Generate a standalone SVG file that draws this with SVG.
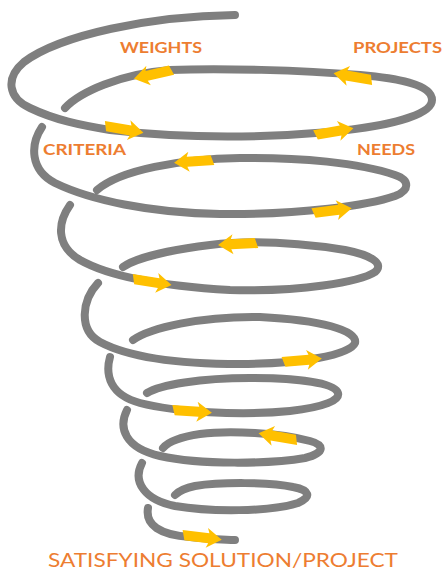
<svg xmlns="http://www.w3.org/2000/svg" xmlns:xlink="http://www.w3.org/1999/xlink" width="444" height="572" viewBox="0 0 444 572">
<defs>
<style>
.coil{fill:none;stroke:#7f7f7f;stroke-width:8;stroke-linecap:round;stroke-linejoin:round}
.lbl{font-family:Lato,"Liberation Sans",sans-serif;font-weight:bold;font-size:16px;fill:#ed7d31}
.big{font-family:Lato,"Liberation Sans",sans-serif;font-size:20px;fill:#ed7d31}
.arr{fill:#ffc000}
</style>
<path id="arr" class="arr" d="M-1,-5 L26,-5 L24,-10 L39,0 L24,10 L26,5 L2,5 Z"/>
</defs>
<rect width="444" height="572" fill="#ffffff"/>
<g id="spiral">
<path class="coil" d="M235,15 C150,16 60,35 24,62 C5,78 8,98 30,108 C55,120 80,125 110,130 C180,138 260,138 330,132 C390,126 432,115 432,100 C432,84 395,78 360,75 C300,70 220,68 170,70 C120,74 80,92 65,108"/>
<path class="coil" d="M42,127 C30,145 30,170 55,183 C90,200 150,213 220,214 C300,215 370,205 395,196 C410,190 410,180 395,175 C360,163 300,157 240,158 C180,159 120,170 97,190"/>
<path class="coil" d="M70,205 C58,222 55,245 80,260 C110,277 160,286 230,290 C300,292 360,282 375,272 C385,263 370,255 345,250 C300,243 250,240 210,245 C170,250 135,258 123,267"/>
<path class="coil" d="M98,283 C82,300 78,330 100,342 C130,358 180,364 240,364 C300,364 350,355 355,343 C358,330 320,320 260,317 C200,316 150,328 133,340"/>
<path class="coil" d="M110,357 C105,375 110,395 140,403 C175,412 240,416 290,411 C325,407 340,400 338,393 C335,383 300,378 250,378 C200,378 160,385 147,393"/>
<path class="coil" d="M127,410 C118,428 125,448 160,456 C200,465 270,464 305,458 C325,453 325,445 310,441 C280,433 230,430 200,434 C180,437 168,442 163,448"/>
<path class="coil" d="M142,463 C132,482 145,500 175,506 C210,512 270,512 298,503 C312,497 310,490 293,487 C270,482 220,482 195,486 C185,488 178,492 175,495"/>
<path class="coil" d="M148,508 C145,525 160,535 190,537 C210,539 225,540 235,540"/>
</g>
<g id="arrows">
<use xlink:href="#arr" transform="translate(372,80) rotate(190)"/>
<use xlink:href="#arr" transform="translate(172,70) rotate(167)"/>
<use xlink:href="#arr" transform="translate(105,126) rotate(10)"/>
<use xlink:href="#arr" transform="translate(315,135) rotate(-10)"/>
<use xlink:href="#arr" transform="translate(213,160) rotate(176)"/>
<use xlink:href="#arr" transform="translate(313,213) rotate(-7)"/>
<use xlink:href="#arr" transform="translate(133,279) rotate(9)"/>
<use xlink:href="#arr" transform="translate(257,243) rotate(177)"/>
<use xlink:href="#arr" transform="translate(283,362) rotate(-5)"/>
<use xlink:href="#arr" transform="translate(173,410) rotate(4)"/>
<use xlink:href="#arr" transform="translate(297,440) rotate(190)"/>
<use xlink:href="#arr" transform="translate(183,535) rotate(7)"/>
</g>
<g id="labels">
<text id="weights" class="lbl" x="120" y="53" textLength="82" lengthAdjust="spacingAndGlyphs">WEIGHTS</text>
<text id="projects" class="lbl" x="353" y="53" textLength="89" lengthAdjust="spacingAndGlyphs">PROJECTS</text>
<text id="criteria" class="lbl" x="43" y="155" textLength="83" lengthAdjust="spacingAndGlyphs">CRITERIA</text>
<text id="needs" class="lbl" x="357" y="155" textLength="58" lengthAdjust="spacingAndGlyphs">NEEDS</text>
<text id="result" class="big" x="48" y="567" textLength="350" lengthAdjust="spacingAndGlyphs">SATISFYING SOLUTION/PROJECT</text>
</g>
</svg>
